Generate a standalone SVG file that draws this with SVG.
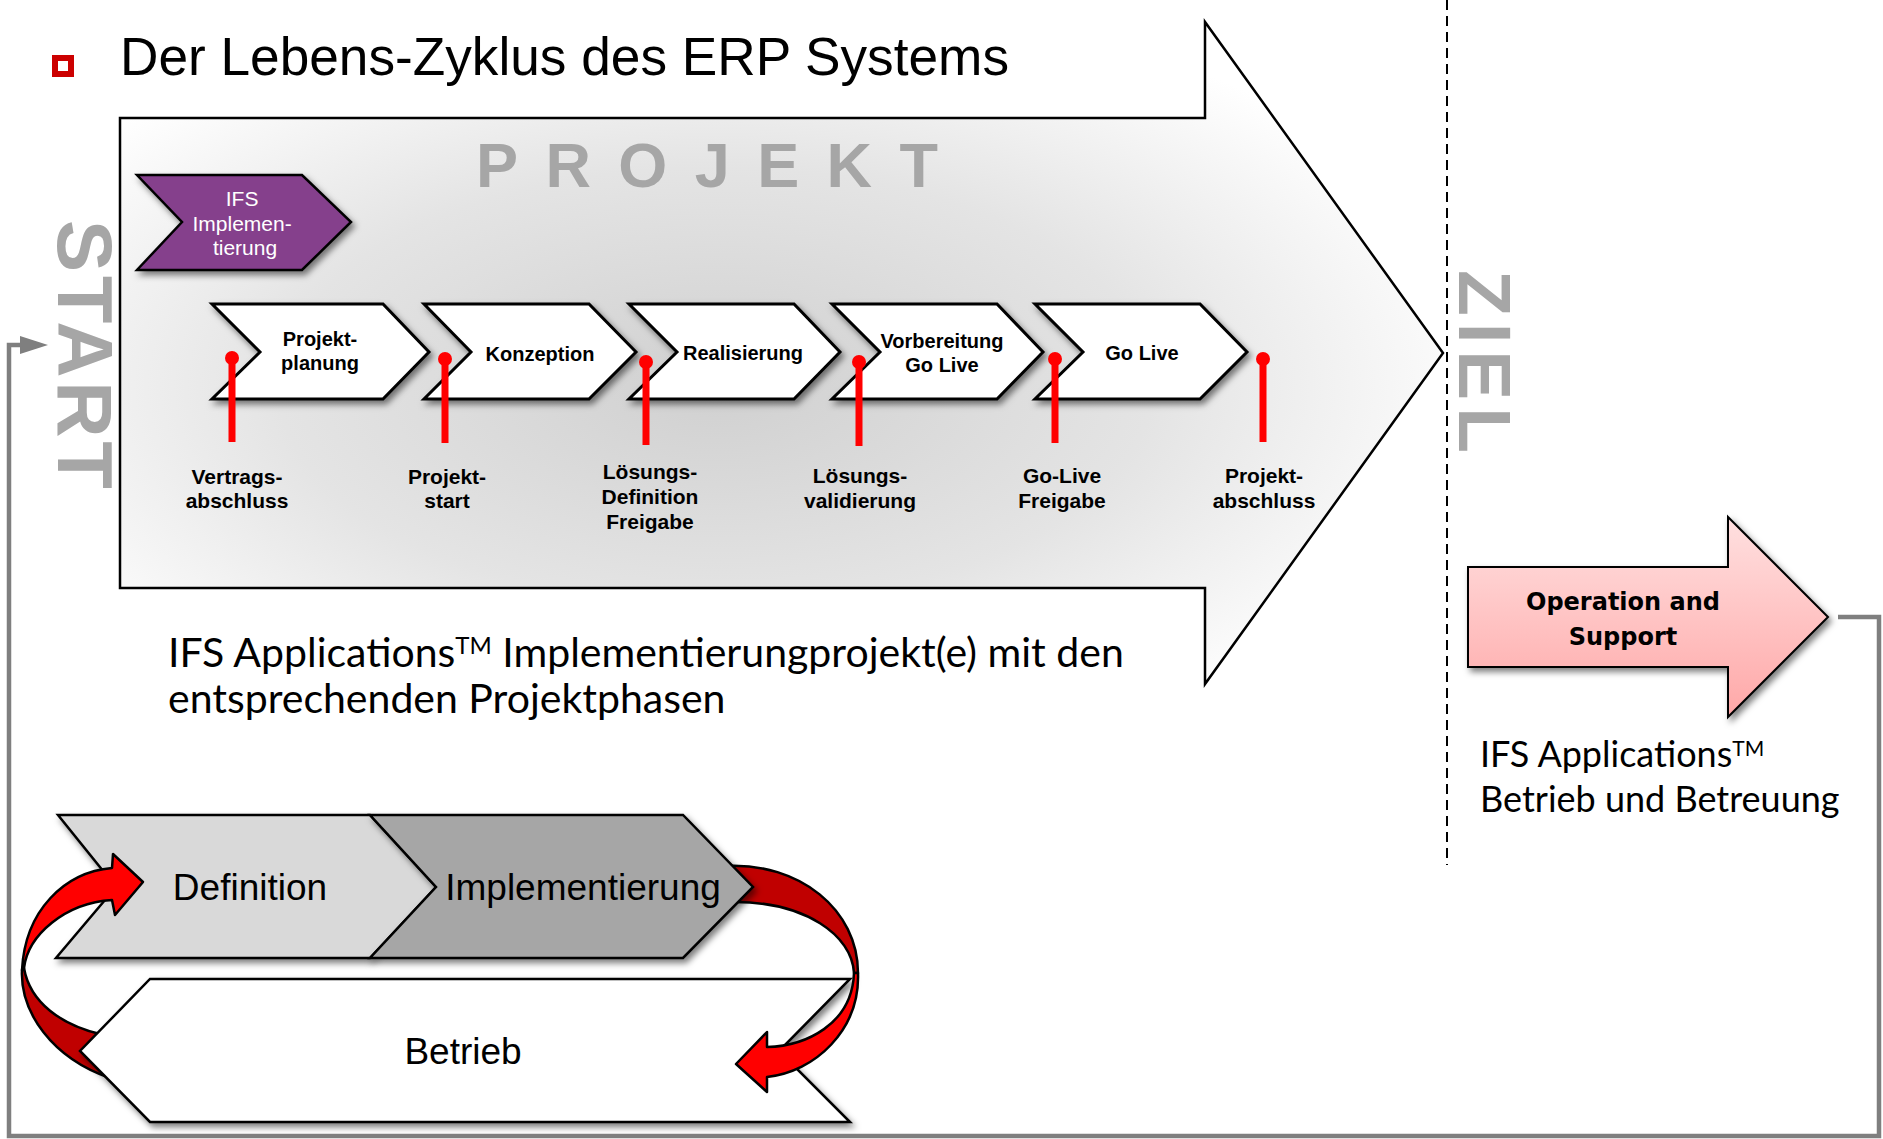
<svg xmlns="http://www.w3.org/2000/svg" width="1883" height="1139" viewBox="0 0 1883 1139">
<defs>
  <radialGradient id="bigGrad" cx="0.45" cy="0.55" r="0.6">
    <stop offset="0" stop-color="#d0d0d0"/>
    <stop offset="0.55" stop-color="#e4e4e4"/>
    <stop offset="1" stop-color="#ffffff"/>
  </radialGradient>
  <linearGradient id="pinkGrad" x1="0" y1="0" x2="0" y2="1">
    <stop offset="0" stop-color="#ffe0e0"/>
    <stop offset="1" stop-color="#ffa8a8"/>
  </linearGradient>
  <filter id="shadow" x="-10%" y="-10%" width="130%" height="140%">
    <feDropShadow dx="3" dy="4" stdDeviation="3" flood-color="#000" flood-opacity="0.5"/>
  </filter>
  <marker id="grayHead" viewBox="0 0 28 18" refX="0" refY="9" markerWidth="28" markerHeight="18" markerUnits="userSpaceOnUse" orient="auto">
    <path d="M0,0 L28,9 L0,18 Z" fill="#7f7f7f"/>
  </marker>
</defs>
<style>
  .sans { font-family: "Liberation Sans", Arial, sans-serif; }
  .cap { font-family: Lato, "Liberation Sans", sans-serif; fill: #000; }
  .big { font-family: "Liberation Sans", Arial, sans-serif; font-weight: bold; fill: #a6a6a6; }
  .phase { fill: #fff; stroke: #000; stroke-width: 3; filter: url(#shadow); }
  .ptext { font-family: "Liberation Sans", Arial, sans-serif; font-weight: bold; font-size: 20px; text-anchor: middle; fill: #000; }
  .mtext { font-family: "Liberation Sans", Arial, sans-serif; font-weight: bold; font-size: 21px; text-anchor: middle; fill: #000; }
  .pin line { stroke: #ff0000; stroke-width: 7; }
  .pin circle { fill: #ff0000; }
  .cyc { stroke: #000; stroke-width: 2.5; filter: url(#shadow); }
  .ctext { font-family: "Liberation Sans", Arial, sans-serif; font-size: 37px; text-anchor: middle; fill: #000; }
  .red { fill: #ff0000; stroke: #000; stroke-width: 2.5; stroke-linejoin: round; }
  .dred { fill: #c00000; stroke: #000; stroke-width: 2.5; stroke-linejoin: round; }
</style>

<!-- title -->
<g id="title">
  <rect x="55" y="58" width="16" height="16" fill="#fff" stroke="#cc0000" stroke-width="6"/>
  <text x="120" y="75" class="sans" font-size="53" textLength="889" lengthAdjust="spacingAndGlyphs">Der Lebens-Zyklus des ERP Systems</text>
</g>

<!-- dashed separator -->
<line x1="1447" y1="0" x2="1447" y2="865" stroke="#000" stroke-width="2" stroke-dasharray="10 6"/>

<!-- big project arrow -->
<g id="projekt-arrow">
  <path d="M120,118 L1205,118 L1205,22 L1443,353 L1205,684 L1205,588 L120,588 Z" fill="url(#bigGrad)" stroke="#000" stroke-width="2.5"/>
  <text x="476" y="187" class="big" font-size="63" textLength="462" lengthAdjust="spacing">PROJEKT</text>
</g>

<g id="start-label">
  <text class="big" font-size="78" transform="translate(58,220) rotate(90)" textLength="269" lengthAdjust="spacing">START</text>
</g>
<g id="ziel-label">
  <text class="big" font-size="75" transform="translate(1459,270) rotate(90)" textLength="183" lengthAdjust="spacing">ZIEL</text>
</g>

<!-- IFS Implementierung -->
<g id="ifs-implementierung">
  <path d="M137,175 L302,175 L351,222 L302,270 L137,270 L182,222 Z" fill="#853f8c" stroke="#000" stroke-width="2.5" filter="url(#shadow)"/>
  <text class="sans" font-size="21" text-anchor="middle" fill="#fff">
    <tspan x="245" y="206">IFS</tspan>
    <tspan x="245" y="231">Implemen-</tspan>
    <tspan x="245" y="255">tierung</tspan>
  </text>
</g>

<!-- phases -->
<g id="phase-projektplanung">
  <path class="phase" d="M212,304 L383,304 L429,352 L383,399 L212,399 L260,352 Z"/>
  <text class="ptext"><tspan x="320" y="346">Projekt-</tspan><tspan x="320" y="370">planung</tspan></text>
</g>
<g id="phase-konzeption">
  <path class="phase" d="M424,304 L589,304 L636,352 L589,399 L424,399 L471,352 Z"/>
  <text class="ptext" x="540" y="361">Konzeption</text>
</g>
<g id="phase-realisierung">
  <path class="phase" d="M629,304 L794,304 L840,352 L794,399 L629,399 L677,352 Z"/>
  <text class="ptext" x="743" y="360">Realisierung</text>
</g>
<g id="phase-vorbereitung">
  <path class="phase" d="M832,304 L997,304 L1043,352 L997,399 L832,399 L880,352 Z"/>
  <text class="ptext"><tspan x="942" y="348">Vorbereitung</tspan><tspan x="942" y="372">Go Live</tspan></text>
</g>
<g id="phase-golive">
  <path class="phase" d="M1035,304 L1200,304 L1247,352 L1200,399 L1035,399 L1083,352 Z"/>
  <text class="ptext" x="1142" y="360">Go Live</text>
</g>

<!-- milestones -->
<g id="milestone-vertragsabschluss" class="pin">
  <line x1="232" y1="358" x2="232" y2="442"/><circle cx="232" cy="358" r="7"/>
  <text class="mtext"><tspan x="237" y="484">Vertrags-</tspan><tspan x="237" y="508">abschluss</tspan></text>
</g>
<g id="milestone-projektstart" class="pin">
  <line x1="445" y1="359" x2="445" y2="443"/><circle cx="445" cy="359" r="7"/>
  <text class="mtext"><tspan x="447" y="484">Projekt-</tspan><tspan x="447" y="508">start</tspan></text>
</g>
<g id="milestone-loesungsdefinition" class="pin">
  <line x1="646" y1="362" x2="646" y2="445"/><circle cx="646" cy="362" r="7"/>
  <text class="mtext"><tspan x="650" y="479">Lösungs-</tspan><tspan x="650" y="504">Definition</tspan><tspan x="650" y="529">Freigabe</tspan></text>
</g>
<g id="milestone-loesungsvalidierung" class="pin">
  <line x1="859" y1="362" x2="859" y2="446"/><circle cx="859" cy="362" r="7"/>
  <text class="mtext"><tspan x="860" y="483">Lösungs-</tspan><tspan x="860" y="508">validierung</tspan></text>
</g>
<g id="milestone-golivefreigabe" class="pin">
  <line x1="1055" y1="359" x2="1055" y2="443"/><circle cx="1055" cy="359" r="7"/>
  <text class="mtext"><tspan x="1062" y="483">Go-Live</tspan><tspan x="1062" y="508">Freigabe</tspan></text>
</g>
<g id="milestone-projektabschluss" class="pin">
  <line x1="1263" y1="359" x2="1263" y2="442"/><circle cx="1263" cy="359" r="7"/>
  <text class="mtext"><tspan x="1264" y="483">Projekt-</tspan><tspan x="1264" y="508">abschluss</tspan></text>
</g>

<!-- caption project -->
<g id="caption-projekt">
  <text class="cap" font-size="41" x="168" y="667">IFS Applications<tspan font-size="24" dy="-13">TM</tspan><tspan dy="13"> Implementierungprojekt(e) mit den</tspan></text>
  <text class="cap" font-size="41" x="168" y="713">entsprechenden Projektphasen</text>
</g>

<!-- operation and support -->
<g id="operation-support">
  <path d="M1468,567 L1728,567 L1728,517 L1828,617 L1728,717 L1728,667 L1468,667 Z" fill="url(#pinkGrad)" stroke="#000" stroke-width="2" filter="url(#shadow)"/>
  <text font-family="'DejaVu Sans', Verdana, sans-serif" font-weight="bold" font-size="24" text-anchor="middle" fill="#000"><tspan x="1623" y="610">Operation and</tspan><tspan x="1623" y="645">Support</tspan></text>
</g>
<g id="caption-operation">
  <text class="cap" font-size="36" x="1480" y="767">IFS Applications<tspan font-size="21" dy="-11">TM</tspan></text>
  <text class="cap" font-size="36" x="1480" y="812">Betrieb und Betreuung</text>
</g>

<!-- lifecycle -->
<g id="cycle-arrows-back">
  <path class="dred" d="M22,970 C20,1012 52,1058 110,1078 L100,1034 C62,1025 30,1003 24,968 Z"/>
  <path class="dred" d="M725,866 C800,862 858,910 858,973 L854,973 C852,935 805,902 735,902 Z"/>
</g>
<g id="cycle-definition">
  <path class="cyc" d="M58,815 L370,815 L436,887 L370,958 L56,958 L116,887 Z" fill="#d9d9d9"/>
  <text class="ctext" x="250" y="900">Definition</text>
</g>
<g id="cycle-implementierung">
  <path class="cyc" d="M370,815 L683,815 L753,887 L683,958 L370,958 L436,887 Z" fill="#a6a6a6"/>
  <text class="ctext" x="583" y="900">Implementierung</text>
</g>
<g id="cycle-betrieb">
  <path class="cyc" d="M150,979 L850,979 L779,1051 L850,1122 L150,1122 L80,1051 Z" fill="#ffffff"/>
  <text class="ctext" x="463" y="1064">Betrieb</text>
</g>
<g id="cycle-arrows-front">
  <path class="red" d="M112,868 C65,872 25,910 22,970 L24,968 C28,935 65,903 112,900 L115,915 L143,882 L113,854 Z"/>
  <path class="red" d="M858,973 C860,1030 815,1072 767,1077 L767,1092 L736,1064 L767,1032 L767,1047 C805,1046 852,1025 854,973 Z"/>
</g>

<!-- feedback connector -->
<g id="connectors">
  <polyline points="1838,617 1879,617 1879,1136 9,1136 9,345 20,345" fill="none" stroke="#7f7f7f" stroke-width="4.5" stroke-linejoin="miter" marker-end="url(#grayHead)"/>
</g>
</svg>
